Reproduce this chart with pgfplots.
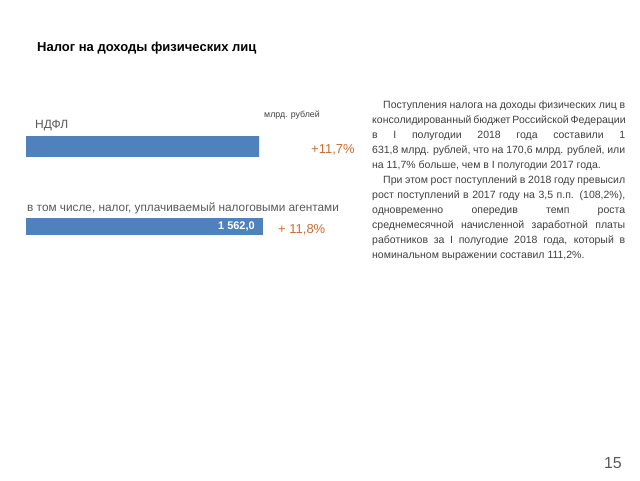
\documentclass[border=0pt]{standalone}
\usepackage{pgfplots}
\pgfplotsset{compat=1.18}
\usepackage{fontspec}
\setmainfont{Liberation Sans}
\definecolor{barblue}{HTML}{4F81BD}
\definecolor{accent}{RGB}{200,110,50}
\definecolor{bodygray}{RGB}{64,64,64}
\definecolor{labgray}{RGB}{89,89,89}
\pgfplotsset{
  hbarstyle/.style={
    xbar, scale only axis, axis lines=none, ticks=none,
    xmin=0, ymin=-1, ymax=1, enlargelimits=false,
    clip marker paths=true,
    nodes near coords,
    /pgf/number format/.cd, fixed, fixed zerofill, precision=1, use comma,
      1000 sep={\ }, assume math mode=true,
    /pgfplots/.cd,
    every node near coord/.append style={anchor=east, inner sep=0pt, xshift=-8pt,
      text=white, font=\bfseries\fontsize{11}{13}\selectfont},
  }
}
\begin{document}
\begin{tikzpicture}
\useasboundingbox[fill=white] (0pt,0pt) rectangle (640pt,480pt);
\coordinate (b1) at (26pt,323pt);
\coordinate (b2) at (26pt,245pt);
% title
\node[anchor=base west, inner sep=0] at (37pt,428.5pt) {\bfseries\fontsize{13}{15}\selectfont Налог на доходы физических лиц};
% labels
\node[anchor=base west, inner sep=0, text=labgray] at (35pt,351pt) {\fontsize{12}{14}\selectfont НДФЛ};
\node[anchor=base west, inner sep=0, text=bodygray] at (264pt,362pt) {\fontsize{8.8}{10}\selectfont млрд. рублей};
\node[anchor=base west, inner sep=0, text=labgray] at (27pt,268pt) {\fontsize{11.8}{14}\selectfont в том числе, налог, уплачиваемый налоговыми агентами};
\node[anchor=base west, inner sep=0, text=accent] at (311pt,326pt) {\fontsize{13}{15}\selectfont +11,7\%};
\node[anchor=base west, inner sep=0, text=accent] at (278pt,247pt) {\fontsize{13}{15}\selectfont + 11,8\%};
% bar 1 (clipped at the right, as in the source slide)
\begin{axis}[hbarstyle, at={(b1)}, anchor=south west,
  width=233pt, height=21pt, xmax=1397.8, bar width=21pt]
\addplot[fill=barblue, draw=none] coordinates {(1631.8,0)};
\end{axis}
% bar 2
\begin{axis}[hbarstyle, at={(b2)}, anchor=south west,
  width=237pt, height=17pt, xmax=1562, bar width=17pt]
\addplot[fill=barblue, draw=none] coordinates {(1562.0,0)};
\end{axis}
% paragraph
\node[anchor=base west, inner sep=0, text=bodygray] at (372pt,371.5pt) {\parbox[t]{253pt}{\fontsize{10.5}{15}\selectfont
\hspace*{11pt}\makebox[242pt][s]{Поступления налога на доходы физических лиц в}\\
\makebox[253pt][s]{консолидированный бюджет Российской Федерации}\\
\makebox[253pt][s]{в I полугодии 2018 года составили 1}\\
\makebox[253pt][s]{631,8 млрд. рублей, что на 170,6 млрд. рублей, или}\\
на 11,7\% больше, чем в I полугодии 2017 года.\\
\hspace*{11pt}\makebox[242pt][s]{При этом рост поступлений в 2018 году превысил}\\
\makebox[253pt][s]{рост поступлений в 2017 году на 3,5 п.п. (108,2\%),}\\
\makebox[253pt][s]{одновременно опередив темп роста}\\
\makebox[253pt][s]{среднемесячной начисленной заработной платы}\\
\makebox[253pt][s]{работников за I полугодие 2018 года, который в}\\
номинальном выражении составил 111,2\%.}};
% page number
\node[anchor=base east, inner sep=0, text=labgray] at (622pt,12pt) {\fontsize{16}{18}\selectfont 15};
\end{tikzpicture}
\end{document}
